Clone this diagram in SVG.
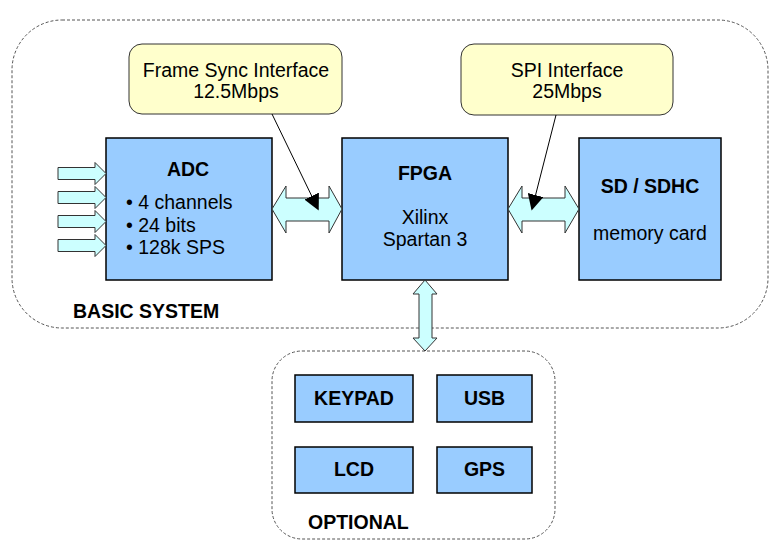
<svg xmlns="http://www.w3.org/2000/svg" width="780" height="550" viewBox="0 0 780 550">
<style>
.grp{fill:none;stroke:#555;stroke-width:1;stroke-dasharray:3,2}
.blk{fill:#99CCFF;stroke:#000;stroke-width:1.5}
.call{fill:#FFFFCC;stroke:#333;stroke-width:1}
.barr{fill:#CCFFFF;stroke:#333;stroke-width:1;stroke-linejoin:miter}
.t{font-family:"Liberation Sans",Arial,sans-serif;font-size:19.5px;fill:#000}
.b{font-weight:bold}
.m{text-anchor:middle}
.ptr{stroke:#000;stroke-width:1;fill:none}
</style>
<defs>
<marker id="ahb" viewBox="0 0 10 10" refX="9" refY="5" markerWidth="16" markerHeight="16" markerUnits="userSpaceOnUse" orient="auto">
<path d="M0,0 L10,5 L0,10 z" fill="#000"/>
</marker>
</defs>
<g id="basic-system">
<rect class="grp" x="12" y="20" width="756" height="308" rx="50" ry="50"/>
<text class="t b" x="73" y="318">BASIC SYSTEM</text>
</g>
<g id="optional">
<rect class="grp" x="272" y="351" width="283" height="188" rx="30" ry="30"/>
<text class="t b" x="308" y="529">OPTIONAL</text>
</g>
<g id="adc">
<rect class="blk" x="106" y="138" width="166" height="142"/>
<text class="t b m" x="188" y="176">ADC</text>
<text class="t" x="126" y="209">• 4 channels</text>
<text class="t" x="126" y="232">• 24 bits</text>
<text class="t" x="126" y="254">• 128k SPS</text>
</g>
<g id="fpga">
<rect class="blk" x="342" y="138" width="166" height="142"/>
<text class="t b m" x="425" y="180">FPGA</text>
<text class="t m" x="425" y="224">Xilinx</text>
<text class="t m" x="425" y="246">Spartan 3</text>
</g>
<g id="sd">
<rect class="blk" x="579" y="138" width="142" height="142"/>
<text class="t b m" x="650" y="193">SD / SDHC</text>
<text class="t m" x="650" y="240">memory card</text>
</g>
<g id="keypad">
<rect class="blk" x="295" y="375" width="118" height="47"/>
<text class="t b m" x="354" y="405">KEYPAD</text>
</g>
<g id="usb">
<rect class="blk" x="437" y="375" width="95" height="47"/>
<text class="t b m" x="484.5" y="405">USB</text>
</g>
<g id="lcd">
<rect class="blk" x="295" y="447" width="118" height="46"/>
<text class="t b m" x="354" y="476">LCD</text>
</g>
<g id="gps">
<rect class="blk" x="437" y="447" width="95" height="46"/>
<text class="t b m" x="484.5" y="476">GPS</text>
</g>
<g id="connectors">
<path class="barr" d="M58,167.5 H95 V162.5 L106,173.5 L95,184.5 V179.5 H58 Z"/>
<path class="barr" d="M58,191.5 H95 V186.5 L106,197.5 L95,208.5 V203.5 H58 Z"/>
<path class="barr" d="M58,215.5 H95 V210.5 L106,221.5 L95,232.5 V227.5 H58 Z"/>
<path class="barr" d="M58,239.5 H95 V234.5 L106,245.5 L95,256.5 V251.5 H58 Z"/>
<path class="barr" d="M272,209 L286,186 V198 H329 V186 L342,209 L329,233 V221 H286 V233 Z"/>
<path class="barr" d="M508,209 L522,186 V198 H565 V186 L579,209 L565,233 V221 H522 V233 Z"/>
<path class="barr" d="M425,280 L437,294 H432 V338 H437 L425,351 L413,338 H419 V294 H413 Z"/>
</g>
<g id="frame-sync">
<rect class="call" x="129" y="44" width="213" height="70" rx="13" ry="13"/>
<text class="t m" x="236" y="77">Frame Sync Interface</text>
<text class="t m" x="236" y="98">12.5Mbps</text>
<line class="ptr" x1="272" y1="114" x2="318" y2="209" marker-end="url(#ahb)"/>
</g>
<g id="spi">
<rect class="call" x="461" y="44" width="212" height="71" rx="13" ry="13"/>
<text class="t m" x="567" y="77">SPI Interface</text>
<text class="t m" x="567" y="98">25Mbps</text>
<line class="ptr" x1="556" y1="115" x2="532" y2="209" marker-end="url(#ahb)"/>
</g>
</svg>
